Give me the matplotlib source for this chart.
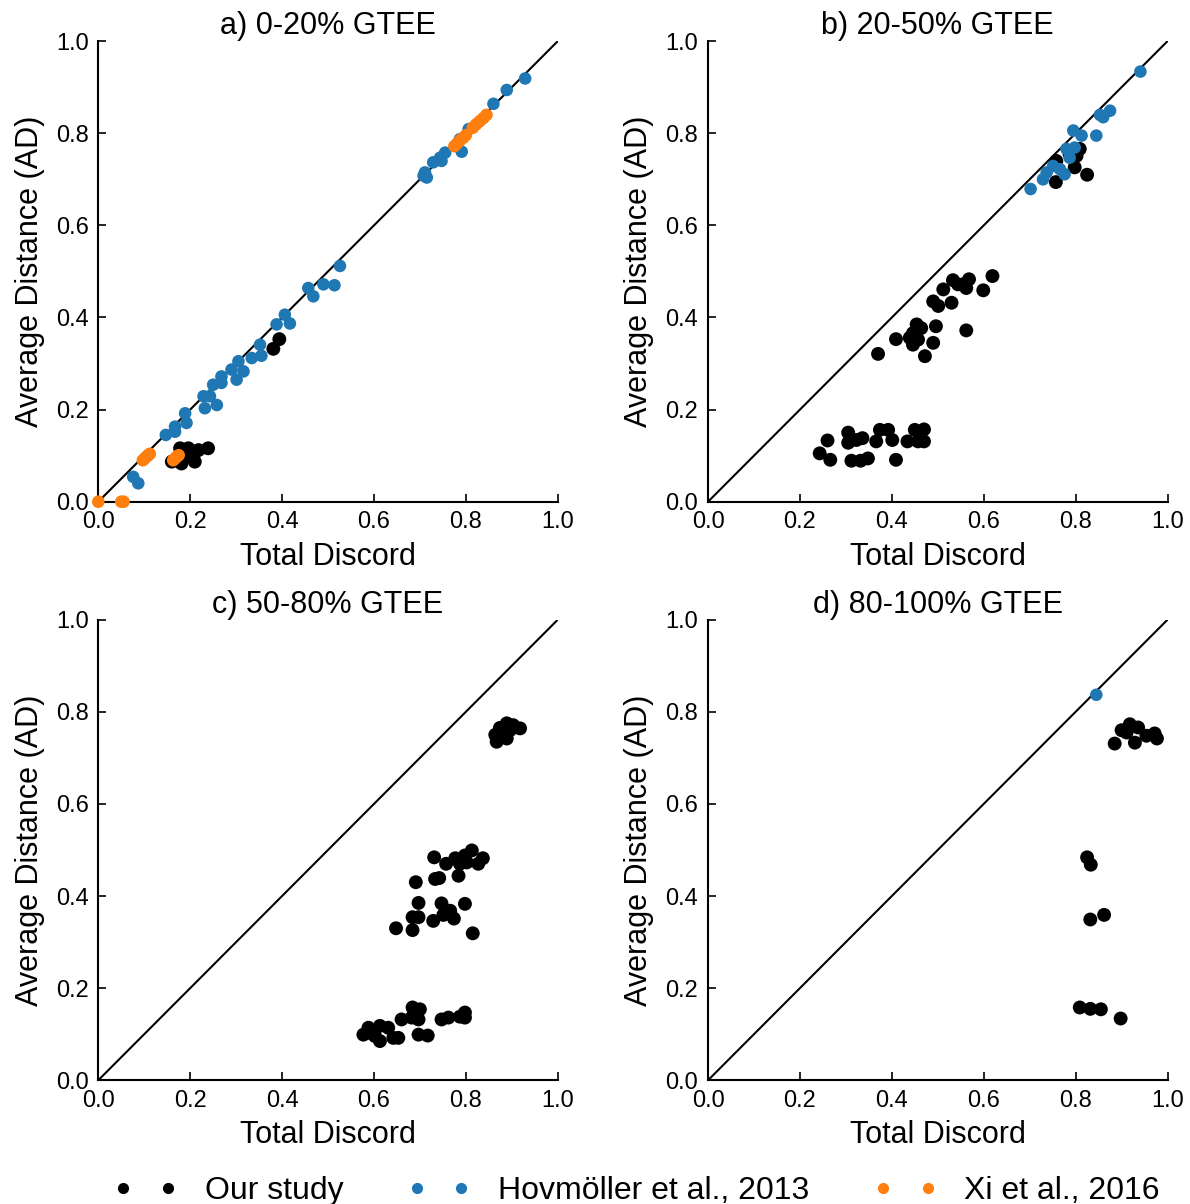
import numpy as np
import matplotlib
matplotlib.use("Agg")
import matplotlib.pyplot as plt
from matplotlib.lines import Line2D

plt.rcParams['font.family'] = ['Liberation Sans', 'DejaVu Sans']

BLACK = "#000000"
BLUE = "#1f77b4"
ORANGE = "#ff7f0e"

TITLES = ["a) 0-20% GTEE", "b) 20-50% GTEE", "c) 50-80% GTEE", "d) 80-100% GTEE"]
LEGEND_LABELS = ["Our study", "Hovmöller et al., 2013", "Xi et al., 2016"]

# ---- panel a ----
a_ours_x = [0.394, 0.381, 0.178, 0.196, 0.218, 0.239, 0.185, 0.207, 0.160, 0.181, 0.210]
a_ours_y = [0.353, 0.332, 0.116, 0.116, 0.112, 0.116, 0.098, 0.102, 0.087, 0.083, 0.087]
a_hov_x = [0.929, 0.889, 0.860, 0.806, 0.791, 0.787, 0.755, 0.744, 0.747, 0.729, 0.711, 0.708,
           0.715, 0.526, 0.514, 0.490, 0.457, 0.468, 0.406, 0.417, 0.388, 0.352, 0.355, 0.334,
           0.305, 0.316, 0.301, 0.290, 0.268, 0.268, 0.250, 0.229, 0.243, 0.232, 0.258, 0.189,
           0.192, 0.167, 0.167, 0.147, 0.076, 0.087]
a_hov_y = [0.919, 0.894, 0.864, 0.809, 0.760, 0.787, 0.758, 0.747, 0.740, 0.737, 0.715, 0.708,
           0.704, 0.512, 0.470, 0.472, 0.464, 0.446, 0.406, 0.387, 0.385, 0.341, 0.317, 0.312,
           0.305, 0.283, 0.265, 0.287, 0.272, 0.258, 0.254, 0.229, 0.229, 0.203, 0.210, 0.192,
           0.171, 0.163, 0.152, 0.145, 0.054, 0.040]
a_xi_x = [0.000, 0.050, 0.055, 0.097, 0.101, 0.105, 0.109, 0.112, 0.163, 0.167, 0.171, 0.175,
          0.775, 0.781, 0.787, 0.794, 0.800, 0.815, 0.822, 0.830, 0.838, 0.845]
a_xi_y = [0.000, 0.000, 0.000, 0.090, 0.094, 0.098, 0.101, 0.104, 0.090, 0.094, 0.098, 0.101,
          0.772, 0.778, 0.784, 0.790, 0.796, 0.812, 0.819, 0.826, 0.833, 0.840]

# ---- panel b ----
b_ours_x = [0.809, 0.798, 0.825, 0.757, 0.758, 0.787, 0.802,
            0.619, 0.599, 0.568, 0.555, 0.562, 0.533, 0.544, 0.512, 0.530, 0.490, 0.501, 0.496,
            0.562, 0.454, 0.464, 0.446, 0.439, 0.457, 0.446, 0.490, 0.409, 0.472, 0.370,
            0.260, 0.243, 0.266, 0.305, 0.305, 0.336, 0.323, 0.312, 0.332, 0.348, 0.374, 0.392,
            0.366, 0.401, 0.409, 0.434, 0.450, 0.470, 0.457, 0.470]
b_ours_y = [0.766, 0.726, 0.710, 0.694, 0.740, 0.755, 0.751,
            0.490, 0.459, 0.483, 0.472, 0.464, 0.481, 0.472, 0.461, 0.432, 0.435, 0.425, 0.381,
            0.372, 0.385, 0.377, 0.366, 0.356, 0.352, 0.341, 0.345, 0.353, 0.316, 0.321,
            0.133, 0.105, 0.091, 0.150, 0.128, 0.138, 0.134, 0.089, 0.089, 0.094, 0.156, 0.156,
            0.131, 0.134, 0.091, 0.131, 0.156, 0.157, 0.131, 0.131]
b_hov_x = [0.941, 0.853, 0.860, 0.875, 0.845, 0.795, 0.813, 0.780, 0.798, 0.787, 0.751, 0.766,
           0.776, 0.737, 0.729, 0.702]
b_hov_y = [0.934, 0.840, 0.835, 0.849, 0.795, 0.806, 0.795, 0.766, 0.769, 0.747, 0.729, 0.722,
           0.711, 0.715, 0.700, 0.679]

# ---- panel c ----
c_ours_x = [0.867, 0.864, 0.874, 0.889, 0.903, 0.918, 0.889, 0.881, 0.896, 0.878,
            0.731, 0.757, 0.777, 0.787, 0.798, 0.813, 0.802, 0.827, 0.837, 0.784, 0.733, 0.742,
            0.691, 0.697, 0.747, 0.798, 0.766, 0.751, 0.729, 0.774, 0.684, 0.697, 0.648, 0.684,
            0.815,
            0.577, 0.588, 0.602, 0.613, 0.613, 0.631, 0.642, 0.653, 0.660, 0.684, 0.700, 0.697,
            0.682, 0.697, 0.717, 0.747, 0.762, 0.787, 0.798, 0.798, 0.591]
c_ours_y = [0.735, 0.750, 0.765, 0.775, 0.771, 0.764, 0.742, 0.757, 0.760, 0.746,
            0.484, 0.470, 0.482, 0.470, 0.488, 0.499, 0.473, 0.470, 0.482, 0.444, 0.437, 0.439,
            0.430, 0.385, 0.384, 0.383, 0.368, 0.359, 0.346, 0.351, 0.354, 0.354, 0.330, 0.326,
            0.319,
            0.099, 0.114, 0.096, 0.085, 0.118, 0.114, 0.092, 0.092, 0.132, 0.158, 0.154, 0.132,
            0.136, 0.099, 0.097, 0.132, 0.136, 0.138, 0.147, 0.136, 0.103]

# ---- panel d ----
d_ours_x = [0.885, 0.900, 0.918, 0.936, 0.929, 0.954, 0.972, 0.977, 0.911,
            0.825, 0.833, 0.832, 0.862, 0.809, 0.832, 0.855, 0.898]
d_ours_y = [0.731, 0.760, 0.773, 0.766, 0.733, 0.748, 0.753, 0.742, 0.755,
            0.484, 0.468, 0.349, 0.359, 0.158, 0.155, 0.154, 0.134]
d_hov_x = [0.845]
d_hov_y = [0.837]

panels = [
    [(a_ours_x, a_ours_y, BLACK, 100), (a_hov_x, a_hov_y, BLUE, 82), (a_xi_x, a_xi_y, ORANGE, 82)],
    [(b_ours_x, b_ours_y, BLACK, 100), (b_hov_x, b_hov_y, BLUE, 82)],
    [(c_ours_x, c_ours_y, BLACK, 100)],
    [(d_ours_x, d_ours_y, BLACK, 100), (d_hov_x, d_hov_y, BLUE, 82)],
]

positions = [
    [0.0826, 0.5833, 0.3861, 0.3825],
    [0.5950, 0.5833, 0.3861, 0.3825],
    [0.0826, 0.1028, 0.3861, 0.3825],
    [0.5950, 0.1028, 0.3861, 0.3825],
]

ticks = np.arange(0, 1.01, 0.2)
tick_labels = [f"{v:.1f}" for v in ticks]

fig = plt.figure(figsize=(11.9, 12.04), dpi=100)

for title, pos, series in zip(TITLES, positions, panels):
    ax = fig.add_axes(pos)
    ax.plot([0, 1], [0, 1], color="black", linewidth=1.5, zorder=1)
    for xs, ys, col, s in series:
        ax.scatter(xs, ys, s=s, color=col, edgecolors="none", zorder=3, clip_on=False)
    ax.set_xlim(0, 1)
    ax.set_ylim(0, 1)
    ax.set_xticks(ticks)
    ax.set_yticks(ticks)
    ax.set_xticklabels(tick_labels)
    ax.set_yticklabels(tick_labels)
    ax.spines["top"].set_visible(False)
    ax.spines["right"].set_visible(False)
    ax.spines["left"].set_linewidth(1.5)
    ax.spines["bottom"].set_linewidth(1.5)
    ax.tick_params(direction="in", length=6, width=1.2, labelsize=17, pad=7)
    ax.set_xlabel("Total Discord", fontsize=22, labelpad=6)
    ax.set_ylabel("Average Distance (AD)", fontsize=22, labelpad=8)
    ax.set_title(title, fontsize=22, pad=4)

handles = [
    Line2D([], [], linestyle="none", marker="o", markersize=7, color=BLACK),
    Line2D([], [], linestyle="none", marker="o", markersize=7, color=BLUE),
    Line2D([], [], linestyle="none", marker="o", markersize=7, color=ORANGE),
]
fig.legend(handles, LEGEND_LABELS, loc="center", bbox_to_anchor=(0.535, 0.011), ncol=3,
           numpoints=2, frameon=False, fontsize=23, handlelength=2.0,
           handletextpad=0.85, columnspacing=2.0)

fig.savefig("out.png", dpi=100)
